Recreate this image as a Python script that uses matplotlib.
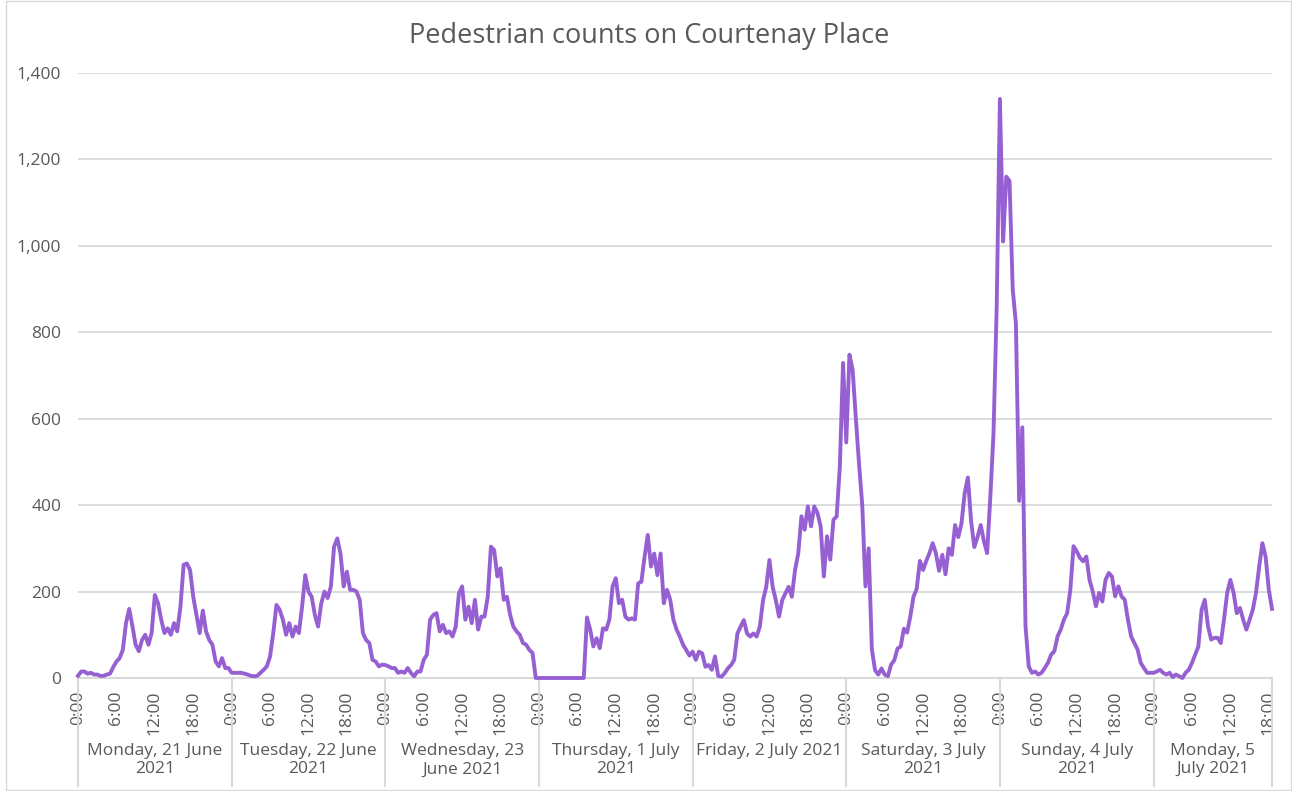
import matplotlib
matplotlib.use("Agg")
import matplotlib.pyplot as plt
import matplotlib.transforms as mtransforms
from matplotlib.patches import Rectangle
import numpy as np

plt.rcParams['font.family'] = ['Open Sans', 'DejaVu Sans']

# ---- data: half-hourly pedestrian counts ----
day_labels = [
    "Monday, 21 June\n2021",
    "Tuesday, 22 June\n2021",
    "Wednesday, 23\nJune 2021",
    "Thursday, 1 July\n2021",
    "Friday, 2 July 2021",
    "Saturday, 3 July\n2021",
    "Sunday, 4 July\n2021",
    "Monday, 5\nJuly 2021",
]
time_labels = ["0:00", "6:00", "12:00", "18:00"]

mon_21 = [5, 15, 15, 10, 12, 8, 8, 5, 5, 8, 10, 25, 38, 46, 65, 127, 160, 120, 77, 62,
          88, 100, 77, 104, 192, 173, 135, 104, 115, 100, 127, 108, 165, 262, 265, 250,
          188, 146, 104, 156, 108, 88, 77, 38, 27, 46, 23, 23]
tue_22 = [12, 12, 12, 12, 10, 8, 5, 4, 5, 12, 19, 27, 50, 104, 169, 158, 135, 100, 127, 96,
          119, 104, 165, 238, 200, 188, 146, 119, 173, 200, 185, 212, 304, 323, 288, 212,
          246, 204, 204, 200, 181, 104, 88, 81, 42, 38, 27, 31]
wed_23 = [30, 27, 23, 23, 12, 15, 12, 23, 12, 4, 15, 15, 42, 54, 135, 146, 150, 108, 123, 104,
          108, 96, 119, 196, 212, 135, 165, 127, 181, 112, 142, 142, 188, 304, 296, 235,
          254, 181, 188, 146, 119, 108, 100, 81, 77, 65, 58, 0]
thu_1 = [0, 0, 0, 0, 0, 0, 0, 0, 0, 0, 0, 0, 0, 0, 0, 140, 112, 73, 92, 69,
         115, 112, 135, 212, 231, 173, 181, 142, 135, 138, 135, 219, 223, 281, 331, 258,
         288, 238, 288, 173, 204, 181, 135, 112, 96, 77, 65, 52]
fri_2 = [61, 42, 61, 57, 26, 30, 19, 50, 5, 3, 11, 22, 30, 42, 103, 119, 134, 103, 96, 103,
         96, 119, 180, 211, 273, 211, 180, 142, 180, 196, 211, 188, 250, 288, 374, 343,
         397, 351, 397, 382, 351, 235, 328, 274, 366, 374, 490, 729]
sat_3 = [545, 748, 713, 600, 495, 400, 212, 300, 66, 18, 8, 22, 8, 4, 31, 41, 68, 73, 114, 105,
         142, 188, 206, 271, 250, 271, 289, 312, 289, 248, 285, 240, 300, 285, 354, 326,
         358, 428, 464, 363, 303, 326, 354, 317, 289, 418, 566, 860]
sun_4 = [1340, 1010, 1160, 1150, 900, 820, 410, 580, 120, 27, 12, 15, 8, 12, 23, 35, 54, 62, 96, 112,
         135, 150, 204, 305, 293, 278, 270, 281, 227, 200, 166, 197, 177, 227, 243, 235,
         189, 212, 189, 181, 135, 96, 81, 66, 35, 23, 12, 12]
mon_5 = [12, 15, 19, 12, 8, 12, 2, 8, 4, 0, 12, 19, 35, 54, 73, 158, 181, 120, 89, 93,
         93, 81, 135, 197, 227, 197, 150, 162, 135, 112, 135, 158, 197, 258, 312, 281,
         204, 160]

days = [mon_21, tue_22, wed_23, thu_1, fri_2, sat_3, sun_4, mon_5]
counts = np.concatenate([np.array(d, dtype=float) for d in days])
x = np.arange(len(counts))

# ---- styling ----
TEXT = "#595959"
GRID = "#D9D9D9"
LINE = "#9660D2"

fig = plt.figure(figsize=(12.92, 7.91), dpi=100)
W, H = 1292, 791
ax = fig.add_axes([78 / W, (H - 678) / H, (1272 - 78) / W, (678 - 73) / H])

ax.plot(x, counts, color=LINE, lw=2.8, solid_joinstyle='round', clip_on=False, zorder=3)

ax.set_xlim(0, len(counts) - 1)
ax.set_ylim(0, 1400)
ax.set_yticks(np.arange(0, 1401, 200))
ax.yaxis.set_major_formatter(matplotlib.ticker.FuncFormatter(lambda v, p: f"{int(v):,}"))
ax.grid(axis='y', color=GRID, lw=1.3)
ax.set_axisbelow(True)
for s in ['top', 'right', 'left']:
    ax.spines[s].set_visible(False)
ax.spines['bottom'].set_color(GRID)
ax.spines['bottom'].set_linewidth(1.5)
ax.tick_params(axis='y', length=0, pad=12, labelsize=12.5, labelcolor=TEXT)

# time ticks
starts = []
pos = 0
for d in days:
    starts.append(pos)
    pos += len(d)
tick_pos, tick_lab = [], []
for s, d in zip(starts, days):
    for k, lab in enumerate(time_labels):
        idx = s + k * 12
        if idx < s + len(d):
            tick_pos.append(idx)
            tick_lab.append(lab)
ax.set_xticks(tick_pos)
ax.set_xticklabels(tick_lab, rotation=90, fontsize=12.5, color=TEXT)
ax.tick_params(axis='x', length=0, pad=9)

# day separators and labels
trans = mtransforms.blended_transform_factory(ax.transData, ax.transAxes)
sep_bottom = -(786 - 678) / (678 - 73)
bounds = starts + [len(counts) - 1]
for b in bounds:
    ax.plot([b, b], [0, sep_bottom], transform=trans, color=GRID, lw=1.5, clip_on=False)
for i, lab in enumerate(day_labels):
    cx = (bounds[i] + bounds[i + 1]) / 2
    ax.text(cx, -(743 - 678) / (678 - 73), lab, transform=trans, ha='center', va='top',
            fontsize=12.5, color=TEXT, linespacing=1.2)

fig.text(649 / W, 1 - 36 / H, "Pedestrian counts on Courtenay Place", ha='center', va='center',
         fontsize=19.5, color=TEXT)

fig.patches.append(Rectangle((6 / W, 1 / H), (1291 - 6) / W, (790 - 1) / H, transform=fig.transFigure,
                             fill=False, edgecolor=GRID, lw=1))

fig.savefig("out.png", dpi=100)
